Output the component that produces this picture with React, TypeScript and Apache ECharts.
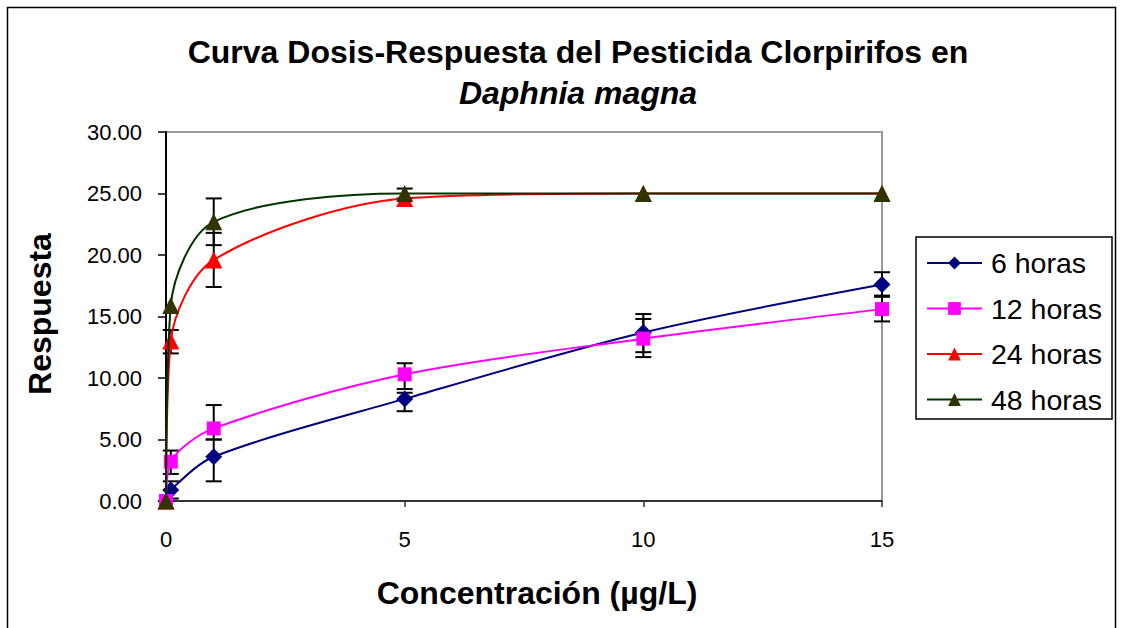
import React, { useEffect, useRef } from "react";
import * as echarts from "echarts";

// Concentración (µg/L)
const concentraciones = [0, 0.1, 1, 5, 10, 15];
// Respuesta por tiempo de exposición
const horas6 = [0, 0.9, 3.6, 8.3, 13.7, 17.6];
const horas12 = [0, 3.2, 5.9, 10.3, 13.2, 15.6];
const horas24 = [0, 13.0, 19.6, 24.6, 25.0, 25.0];
const horas48 = [0, 15.9, 22.7, 25.0, 25.0, 25.0];
// Barras de error: [bajo, alto] (null = sin barra)
const err6: (number[] | null)[] = [null, [0.2, 1.6], [1.6, 5.0], [7.3, 8.8], [12.1, 15.2], [16.6, 18.6]];
const err12: (number[] | null)[] = [null, [2.2, 4.1], [5.0, 7.8], [9.1, 11.2], [11.7, 14.8], [14.6, 16.7]];
const err24: (number[] | null)[] = [null, [12.0, 13.9], [17.4, 21.8], null, null, null];
const err48: (number[] | null)[] = [null, null, [20.8, 24.6], [24.6, 25.4], null, null];

const seriesNames = ["6 horas", "12 horas", "24 horas", "48 horas"];
const yTicks = [0, 5, 10, 15, 20, 25, 30];
const xTicks = [0, 5, 10, 15];

const FONT = "'Liberation Sans', Arial, sans-serif";

export default function App() {
  const ref = useRef<HTMLDivElement>(null);
  useEffect(() => {
    if (!ref.current) return;
    const chart = echarts.init(ref.current, null, { renderer: "svg" });

    const pairs = (ys: number[]) => concentraciones.map((x, i) => [x, ys[i]]);
    const errData: number[][] = [];
    [err6, err12, err24, err48].forEach((arr) =>
      arr.forEach((e, i) => {
        if (e) errData.push([concentraciones[i], e[0], e[1]]);
      })
    );

    const lineSeries = (
      name: string,
      ys: number[],
      lineColor: string,
      markColor: string,
      symbol: string,
      size: number,
      z: number
    ) => ({
      name,
      type: "line",
      data: pairs(ys),
      smooth: 0.3,
      symbol,
      symbolSize: size,
      z,
      lineStyle: { color: lineColor, width: 2 },
      itemStyle: { color: markColor, borderColor: markColor, borderWidth: 0 },
      color: lineColor,
    });

    chart.setOption({
      animation: false,
      backgroundColor: "#ffffff",
      title: {
        text: "{a|Curva Dosis-Respuesta del Pesticida Clorpirifos en}\n{b|Daphnia magna}",
        left: 573,
        top: 26,
        textAlign: "center",
        textStyle: {
          rich: {
            a: { fontFamily: FONT, fontWeight: "bold", fontSize: 32, lineHeight: 41, color: "#000" },
            b: { fontFamily: FONT, fontWeight: "bold", fontStyle: "italic", fontSize: 32, lineHeight: 41, color: "#000" },
          },
        },
      },
      legend: {
        orient: "vertical",
        left: 926,
        top: 248,
        itemWidth: 55,
        itemHeight: 16,
        itemGap: 15.5,
        padding: 0,
        data: seriesNames,
        textStyle: { fontFamily: FONT, fontSize: 28.5, color: "#000", lineHeight: 30, padding: [0, 0, 0, 4] },
      },
      grid: {
        left: 166,
        right: 239,
        top: 132,
        bottom: 127,
        show: true,
        borderColor: "#999999",
        borderWidth: 2,
        backgroundColor: "#ffffff",
      },
      xAxis: {
        type: "value",
        min: 0,
        max: 15,
        interval: 5,
        axisLine: { show: true, lineStyle: { color: "#333", width: 2 } },
        axisTick: { show: true, inside: false, length: 6, lineStyle: { color: "#333", width: 1.5 } },
        splitLine: { show: false },
        axisLabel: {
          margin: 27,
          fontFamily: FONT,
          fontSize: 22,
          color: "#000",
          formatter: (v: number) => (xTicks.includes(v) ? String(v) : ""),
        },
      },
      yAxis: {
        type: "value",
        min: 0,
        max: 30,
        interval: 5,
        axisLine: { show: true, lineStyle: { color: "#000", width: 2 } },
        axisTick: { show: true, inside: false, length: 8, lineStyle: { color: "#000", width: 1.5 } },
        splitLine: { show: false },
        axisLabel: {
          margin: 24,
          fontFamily: FONT,
          fontSize: 22,
          color: "#000",
          formatter: (v: number) => (yTicks.includes(v) ? v.toFixed(2) : ""),
        },
      },
      graphic: [
        {
          type: "rect",
          shape: { x: 7.5, y: 7.5, width: 1108, height: 700 },
          style: { fill: "none", stroke: "#000", lineWidth: 1.5 },
          silent: true,
          z: -10,
        },
        {
          type: "rect",
          shape: { x: 916, y: 237, width: 196, height: 182 },
          style: { fill: "none", stroke: "#000", lineWidth: 1.5 },
          silent: true,
        },
        {
          type: "text",
          x: 40,
          y: 314,
          rotation: Math.PI / 2,
          style: {
            text: "Respuesta",
            fontFamily: FONT,
            fontWeight: "bold",
            fontSize: 32,
            fill: "#000",
            textAlign: "center",
            textVerticalAlign: "middle",
          },
        },
        {
          type: "text",
          x: 537,
          y: 593,
          style: {
            text: "Concentración (µg/L)",
            fontFamily: FONT,
            fontWeight: "bold",
            fontSize: 32,
            fill: "#000",
            textAlign: "center",
            textVerticalAlign: "middle",
          },
        },
      ],
      series: [
        {
          type: "custom",
          name: "error",
          z: 3,
          data: errData,
          renderItem: (params: any, api: any) => {
            const x = api.value(0);
            const lo = api.coord([x, api.value(1)]);
            const hi = api.coord([x, api.value(2)]);
            const w = 8;
            const st = { stroke: "#000", lineWidth: 2 };
            return {
              type: "group",
              children: [
                { type: "line", shape: { x1: lo[0], y1: lo[1], x2: hi[0], y2: hi[1] }, style: st },
                { type: "line", shape: { x1: lo[0] - w, y1: lo[1], x2: lo[0] + w, y2: lo[1] }, style: st },
                { type: "line", shape: { x1: hi[0] - w, y1: hi[1], x2: hi[0] + w, y2: hi[1] }, style: st },
              ],
            };
          },
        },
        lineSeries(seriesNames[0], horas6, "#000080", "#000080", "diamond", 17, 4),
        lineSeries(seriesNames[1], horas12, "#FF00FF", "#FF00FF", "rect", 14, 5),
        lineSeries(seriesNames[2], horas24, "#FF0000", "#FF0000", "triangle", 17, 6),
        lineSeries(seriesNames[3], horas48, "#003300", "#333300", "triangle", 17, 7),
      ],
    });
    return () => chart.dispose();
  }, []);

  return (
    <div
      ref={ref}
      style={{ position: "absolute", left: 0, top: 0, width: 1121, height: 628 }}
    />
  );
}
